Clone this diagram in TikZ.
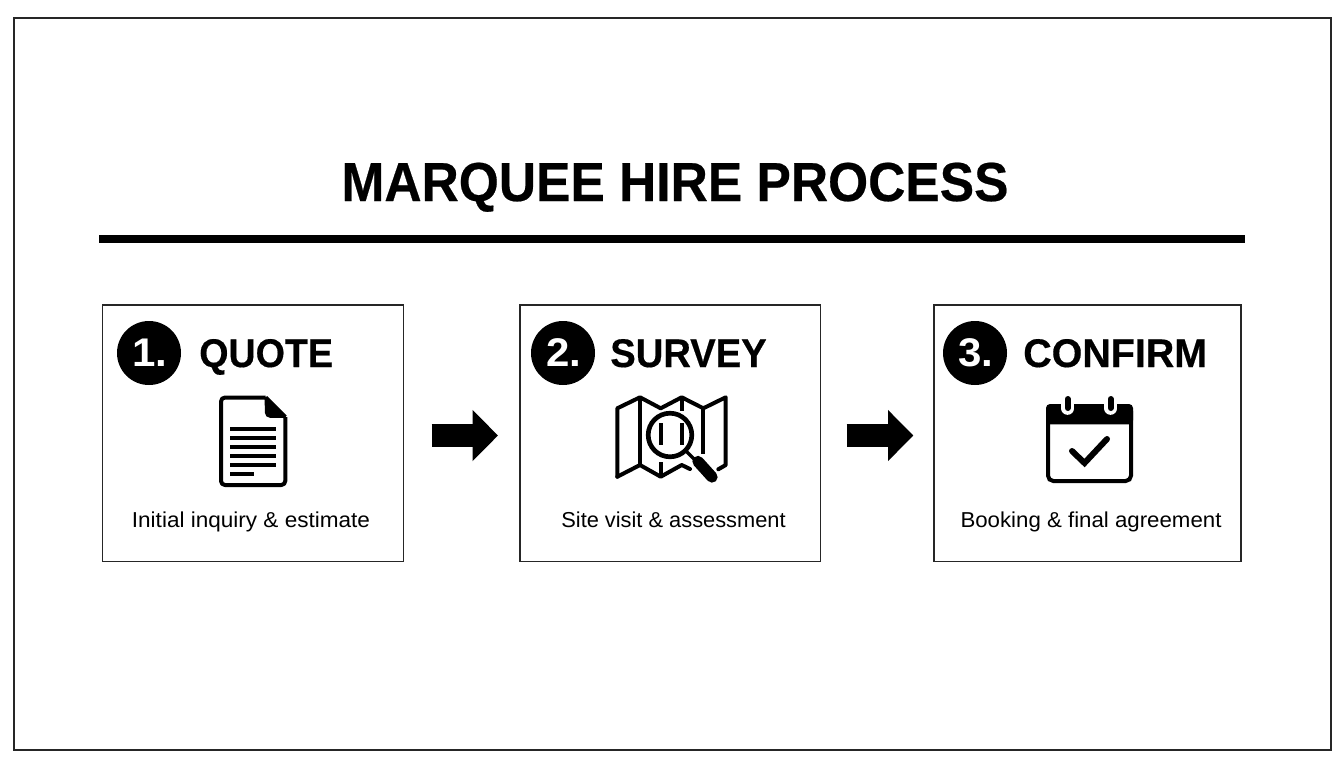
\documentclass[tikz,border=0pt]{standalone}
\usepackage{fontspec}
\setmainfont{Liberation Sans}
\usetikzlibrary{arrows.meta}
\newcommand{\stretched}[1]{\addfontfeature{FakeStretch=#1}}
\newcommand{\heavier}[1]{\addfontfeature{FakeStretch=#1,FakeBold=0.4}}
\tikzset{
  x=0.75pt,y=-0.75pt,
  stepbox/.style={draw=black!85,line width=1pt,fill=none,inner sep=0pt,minimum height=192.4pt},
  badge/.style={circle,fill=black,text=white,inner sep=0pt,minimum size=48pt,font=\fontsize{30}{30}\selectfont\bfseries},
  heading/.style={anchor=base west,inner sep=0pt,font=\fontsize{30}{30}\selectfont\bfseries},
  caption/.style={anchor=base,inner sep=0pt,font=\fontsize{16.2}{18}\selectfont},
  flow/.style={line width=17pt,-{Triangle[length=19pt,width=37.2pt]}},
  ico/.style={line width=3pt,line join=round,line cap=butt},
  hair/.style={line width=2.8pt},
}
\begin{document}
\begin{tikzpicture}
\useasboundingbox (0,0) rectangle (1344,768);
\fill[white] (0,0) rectangle (1344,768);
\node[draw=black!85,line width=1pt,minimum width=987.75pt,minimum height=549pt,inner sep=0pt] (frame) at (672.5,384) {};
\node[inner sep=0pt,anchor=base,font=\fontsize{41.2}{44}\selectfont\bfseries] (title) at (675,201) {\heavier{0.938}MARQUEE HIRE PROCESS};
\fill[black] (99,234.5) rectangle (1245,242.5);
\node[stepbox,minimum width=225.75pt] (box1) at (253,433.25) {};
\node[stepbox,minimum width=225.4pt] (box2) at (670.25,433.25) {};
\node[stepbox,minimum width=230.25pt] (box3) at (1087.5,433.25) {};
\node[badge] (n1) at (149,353) {\hspace*{1.5pt}\stretched{1.05}1.};
\node[badge] (n2) at (563,353) {\hspace*{1.5pt}\stretched{1.05}2.};
\node[badge] (n3) at (975,353) {\hspace*{1.5pt}\stretched{1.05}3.};
\node[heading] (h1) at (199,367) {\heavier{0.94}QUOTE};
\node[heading] (h2) at (610,367) {\heavier{0.955}SURVEY};
\node[heading] (h3) at (1023,367) {\heavier{0.985}CONFIRM};
\node[caption] (c1) at (251,527.5) {\stretched{1.044}Initial inquiry \& estimate};
\node[caption] (c2) at (673.5,527.5) {\stretched{1.01}Site visit \& assessment};
\node[caption] (c3) at (1091,527.5) {\stretched{1.03}Booking \& final agreement};
% arrows
\draw[flow,shorten <=20.6pt,shorten >=16pt] ([yshift=-1.7pt]box1.east) -- ([yshift=-1.7pt]box2.west);
\draw[flow,shorten <=19.1pt,shorten >=15pt] ([yshift=-1.7pt]box2.east) -- ([yshift=-1.7pt]box3.west);
% document icon
\draw[ico,rounded corners=3pt] (265.7,397.5) -- (221,397.5) -- (221,485) -- (285.3,485) -- (285.3,417);
\draw[ico] (285.3,417) -- (265.7,397.5);
\fill[black,rounded corners=1.5pt] (264.5,396) -- (287,417.8) -- (268,417.8) -- (265,415) -- cycle;
\foreach \y in {428.7,437.7,446.7,455.7,464.7}{\draw[hair] (230.3,\y) -- (276.3,\y);}
\draw[hair] (230.3,473.7) -- (254,473.7);
% map icon
\draw[ico,line cap=round] (617.3,476.7) -- (617.3,408.3) -- (640,397.3) -- (660.7,408.3) -- (681.7,397.3) -- (703.3,408.3) -- (725.7,397.3) -- (725.7,465) -- (718.3,469.3);
\draw[ico,line cap=round] (617.3,476.7) -- (640,465) -- (660.7,476.7) -- (681.7,465) -- (690,469);
\draw[ico] (640,397.3) -- (640,465);
\draw[ico] (703.3,408.3) -- (703.3,454);
\draw[ico] (660.7,462) -- (660.7,476.7);
\fill[white] (670,435) circle (24);
\draw[black,line width=3.5pt] (670,435) circle (21.8);
\draw[ico] (660.7,423.3) -- (660.7,445);
\draw[ico] (681.7,423.3) -- (681.7,445);
\draw[ico] (681.7,397.3) -- (681.7,411);
\draw[white,line width=9pt] (690,454) -- (698,462);
\draw[black,line width=2.4pt] (686,451) -- (697,462);
\draw[black,line width=8.5pt,line cap=round] (698,461.5) -- (712,477);
% calendar icon
\draw[black,line width=3pt,rounded corners=4pt] (1048,406) rectangle (1131,481);
\fill[black,rounded corners=3pt] (1046,404) -- (1133,404) -- (1133,424.3) -- (1046,424.3) -- cycle;
\foreach \x in {1067.7,1110.7}{
  \draw[white,line width=9.5pt,line cap=round] (\x,400) -- (\x,408.5);
  \draw[black,line width=4.5pt,line cap=round] (\x,399) -- (\x,408);
}
\draw[black,line width=4.5pt,line cap=round,line join=miter] (1072,451) -- (1084.5,463) -- (1107,439);
\end{tikzpicture}
\end{document}
